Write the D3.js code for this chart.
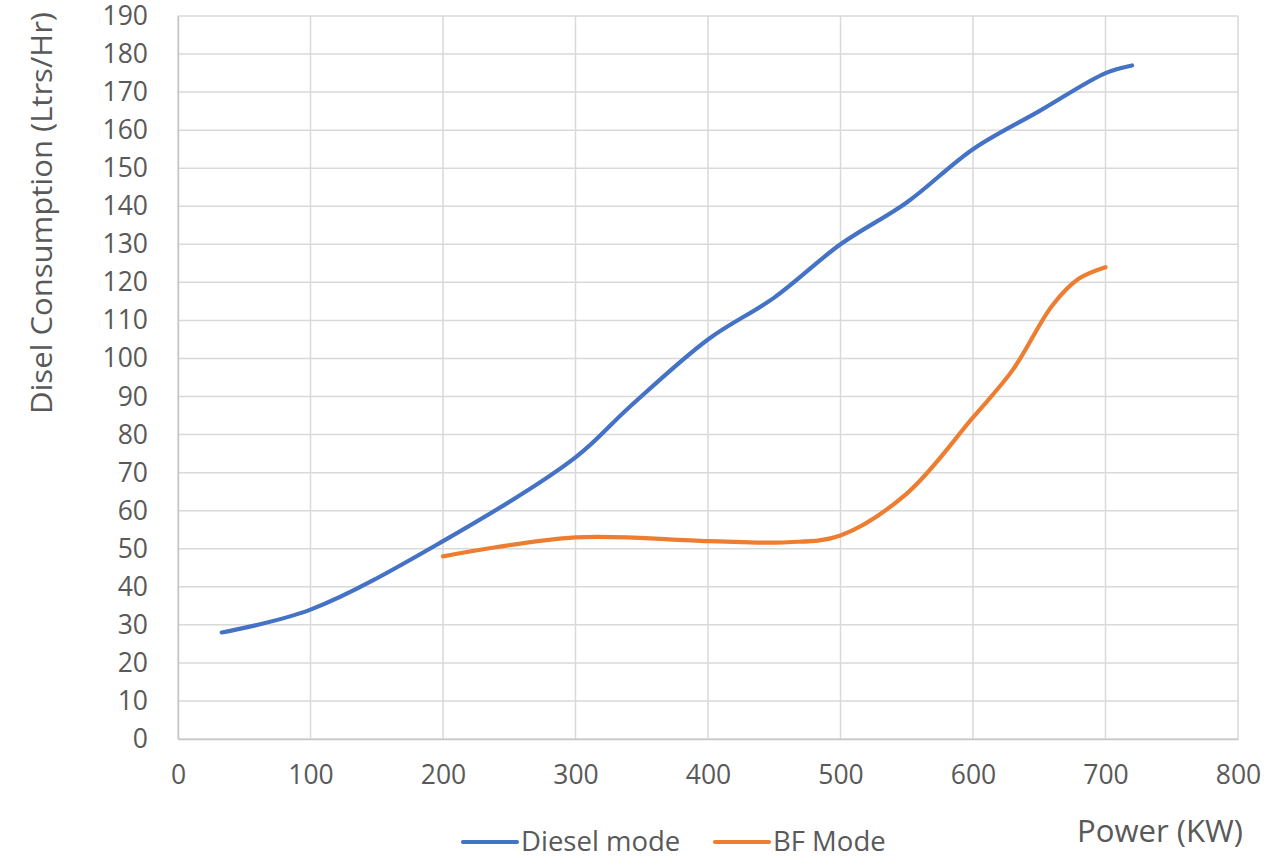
<!DOCTYPE html>
<html>
<head>
<meta charset="utf-8">
<script src="https://cdn.jsdelivr.net/npm/d3@7"></script>
<style>
  html, body { margin: 0; padding: 0; background: #fff; }
  svg { display: block; font-family: "Open Sans", "Noto Sans", sans-serif; }
</style>
</head>
<body>
<svg id="chart" width="1274" height="859"></svg>
<script>
// Data
const seriesNames = ["Diesel mode", "BF Mode"];
const dieselPower = [33, 100, 200, 300, 340, 400, 450, 500, 550, 600, 650, 700, 720];
const dieselValues = [28, 34, 52, 74, 87, 105, 116, 130, 141, 155, 165, 175, 177];
const bfPower = [200, 300, 400, 460, 500, 550, 600, 630, 660, 680, 700];
const bfValues = [48, 53, 52, 51.7, 53.5, 64.5, 84.5, 97, 114, 121, 124];
const xTicks = [0, 100, 200, 300, 400, 500, 600, 700, 800];
const yTicks = d3.range(0, 191, 10);
const xTitle = "Power (KW)";
const yTitle = "Disel Consumption (Ltrs/Hr)";
const colors = ["#4472C4", "#ED7D31"];

const svg = d3.select("#chart");
const m = { left: 178, top: 16, right: 36, bottom: 120 };
const W = 1274, H = 859;
const x = d3.scaleLinear().domain([0, 800]).range([m.left, W - m.right]);
const y = d3.scaleLinear().domain([0, 190]).range([H - m.bottom, m.top]);

const textColor = "#595959";
const gridColor = "#d9d9d9";

// gridlines
svg.append("g")
  .selectAll("line.h").data(yTicks).join("line")
  .attr("x1", x(0)).attr("x2", x(800))
  .attr("y1", d => y(d)).attr("y2", d => y(d))
  .attr("stroke", gridColor).attr("stroke-width", 1.5);
svg.append("g")
  .selectAll("line.v").data(xTicks).join("line")
  .attr("y1", y(0)).attr("y2", y(190))
  .attr("x1", d => x(d)).attr("x2", d => x(d))
  .attr("stroke", gridColor).attr("stroke-width", 1.5);

// axes
const yAxis = d3.axisLeft(y).tickValues(yTicks).tickSize(0).tickPadding(30);
const gy = svg.append("g").attr("transform", `translate(${x(0)},0)`).call(yAxis);
gy.select(".domain").attr("stroke", "#c8c8c8").attr("stroke-width", 1.5);
gy.selectAll("text").attr("fill", textColor).style("font-size", "26.5px")
  .style("font-family", "'Open Sans', sans-serif");

const xAxis = d3.axisBottom(x).tickValues(xTicks).tickSize(0).tickPadding(26);
const gx = svg.append("g").attr("transform", `translate(0,${y(0)})`).call(xAxis);
gx.select(".domain").attr("stroke", "#c8c8c8").attr("stroke-width", 1.5);
gx.selectAll("text").attr("fill", textColor).style("font-size", "26.5px")
  .style("font-family", "'Open Sans', sans-serif");

// lines
const line = d3.line().x(d => x(d[0])).y(d => y(d[1])).curve(d3.curveCatmullRom.alpha(0.5));
const dieselData = dieselPower.map((p, i) => [p, dieselValues[i]]);
const bfData = bfPower.map((p, i) => [p, bfValues[i]]);
[dieselData, bfData].forEach((data, i) => {
  svg.append("path").datum(data)
    .attr("d", line)
    .attr("fill", "none")
    .attr("stroke", colors[i])
    .attr("stroke-width", 4.2)
    .attr("stroke-linecap", "round")
    .attr("stroke-linejoin", "round");
});

// axis titles
svg.append("text")
  .attr("transform", `translate(52,213) rotate(-90)`)
  .attr("text-anchor", "middle")
  .attr("fill", textColor)
  .style("font-size", "30px")
  .attr("textLength", 402)
  .attr("lengthAdjust", "spacingAndGlyphs")
  .text(yTitle);

svg.append("text")
  .attr("x", 1243).attr("y", 842)
  .attr("text-anchor", "end")
  .attr("fill", textColor)
  .style("font-size", "31px")
  .attr("textLength", 166)
  .attr("lengthAdjust", "spacingAndGlyphs")
  .text(xTitle);

// legend
const legendItems = [
  { name: seriesNames[0], color: colors[0], x: 463 },
  { name: seriesNames[1], color: colors[1], x: 715 }
];
const lg = svg.append("g");
legendItems.forEach(it => {
  lg.append("line")
    .attr("x1", it.x).attr("x2", it.x + 54)
    .attr("y1", 842).attr("y2", 842)
    .attr("stroke", it.color).attr("stroke-width", 4.2)
    .attr("stroke-linecap", "round");
  lg.append("text")
    .attr("x", it.x + 58).attr("y", 851)
    .attr("fill", textColor)
    .style("font-size", "27.5px")
    .text(it.name);
});
</script>
</body>
</html>
